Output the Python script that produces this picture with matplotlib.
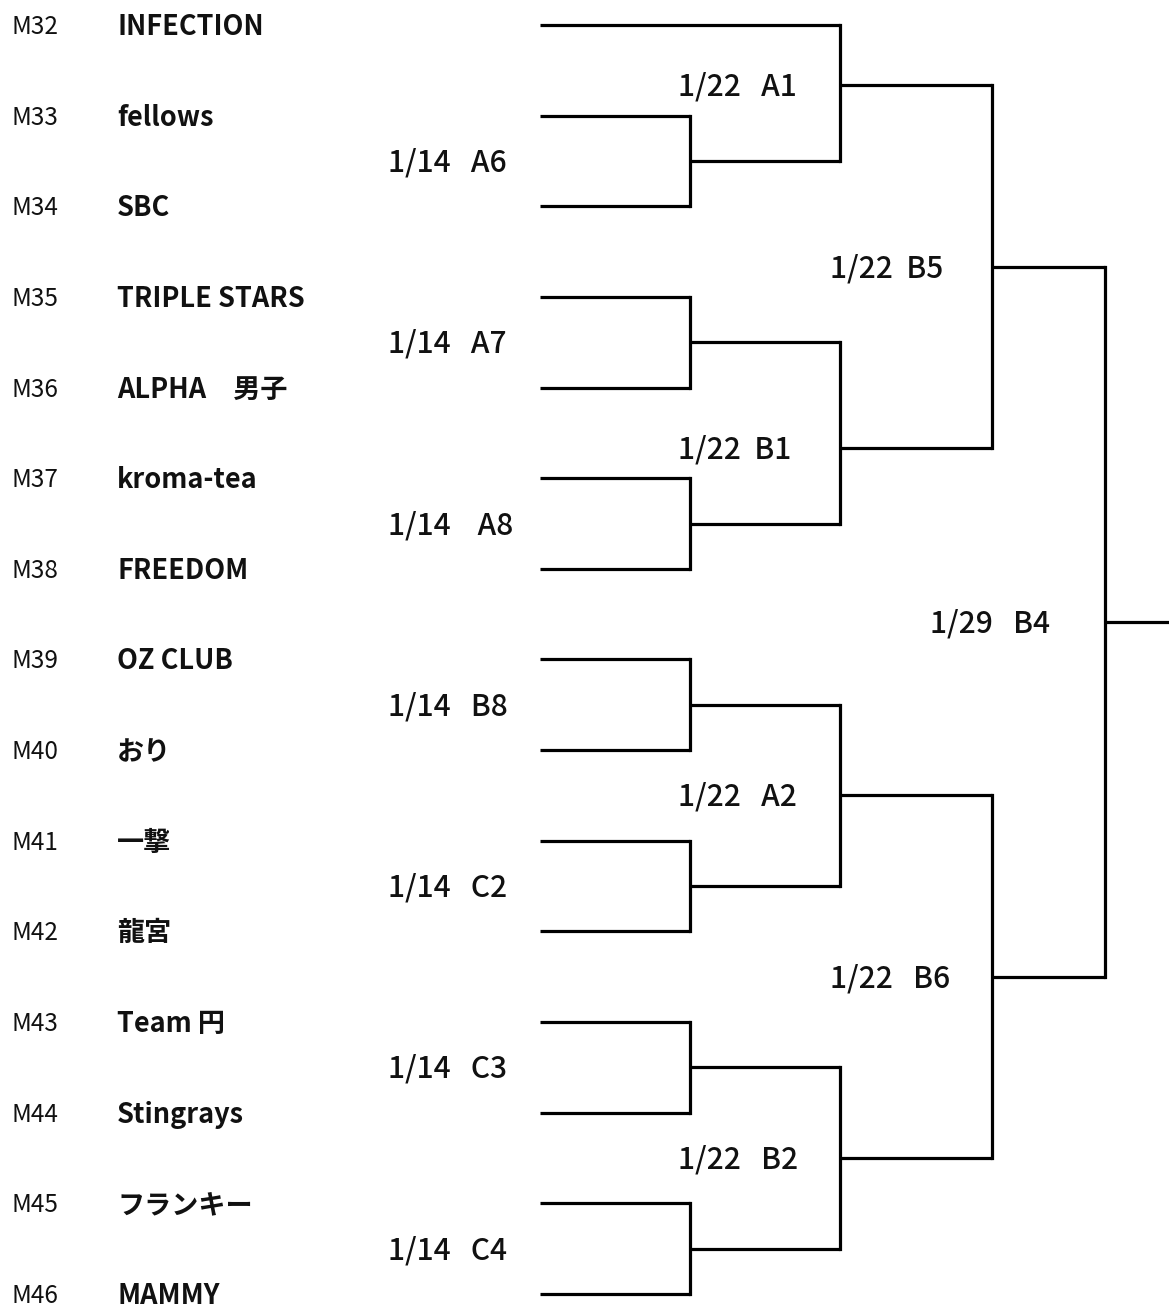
import matplotlib
matplotlib.use("Agg")
import matplotlib.pyplot as plt

plt.rcParams['font.family'] = ['Noto Sans CJK JP', 'DejaVu Sans']

# Teams (top to bottom)
codes = ['M32', 'M33', 'M34', 'M35', 'M36', 'M37', 'M38', 'M39',
         'M40', 'M41', 'M42', 'M43', 'M44', 'M45', 'M46']
teams = ['INFECTION', 'fellows', 'SBC', 'TRIPLE STARS', 'ALPHA　男子',
         'kroma-tea', 'FREEDOM', 'OZ CLUB', 'おり', '一撃', '龍宮',
         'Team 円', 'Stingrays', 'フランキー', 'MAMMY']

# Matches: name -> (top entrant, bottom entrant); ints are team rows
matches = {
    'A6': (1, 2), 'A7': (3, 4), 'A8': (5, 6), 'B8': (7, 8),
    'C2': (9, 10), 'C3': (11, 12), 'C4': (13, 14),
    'A1': (0, 'A6'), 'B1': ('A7', 'A8'), 'A2': ('B8', 'C2'), 'B2': ('C3', 'C4'),
    'B5': ('A1', 'B1'), 'B6': ('A2', 'B2'),
    'B4': ('B5', 'B6'),
}
rounds = {'A6': 1, 'A7': 1, 'A8': 1, 'B8': 1, 'C2': 1, 'C3': 1, 'C4': 1,
          'A1': 2, 'B1': 2, 'A2': 2, 'B2': 2, 'B5': 3, 'B6': 3, 'B4': 4}
match_labels = {
    'A6': '1/14   A6', 'A7': '1/14   A7', 'A8': '1/14    A8', 'B8': '1/14   B8',
    'C2': '1/14   C2', 'C3': '1/14   C3', 'C4': '1/14   C4',
    'A1': '1/22   A1', 'B1': '1/22  B1', 'A2': '1/22   A2', 'B2': '1/22   B2',
    'B5': '1/22  B5', 'B6': '1/22   B6', 'B4': '1/29   B4',
}
# joins that sit off the midpoint (in row units)
join_override = {'A1': 0.66, 'B1': 4.67}

# layout in pixels
W, H = 1169, 1306
row0, row_step = 25, 90.64
x_start = 540
round_x = {1: 690, 2: 840, 3: 992, 4: 1105, 5: 1169}
label_x = {1: 388, 2: 678, 3: 830, 4: 930}
dy = 2  # text sits a touch lower than va='center' puts it

fig = plt.figure(figsize=(W / 100, H / 100), dpi=100)
ax = fig.add_axes([0, 0, 1, 1])
ax.set_xlim(0, W)
ax.set_ylim(H, 0)
ax.axis('off')

lw = 2.3

for i, (c, t) in enumerate(zip(codes, teams)):
    y = row0 + i * row_step + dy
    ax.text(11, y, c, fontsize=17.5, va='center', ha='left', color='#111111')
    ax.text(117, y, t, fontsize=19.5, va='center', ha='left', fontweight='semibold', color='#111111')


def node_pos(node):
    """returns (x_end, y) of the line leaving a node"""
    if isinstance(node, int):
        return x_start, row0 + node * row_step
    top, bot = matches[node]
    r = rounds[node]
    _, y1 = node_pos(top)
    _, y2 = node_pos(bot)
    if node in join_override:
        y = row0 + join_override[node] * row_step
    else:
        y = (y1 + y2) / 2
    return round_x[r], y


for name, (top, bot) in matches.items():
    r = rounds[name]
    xv = round_x[r]
    xa, ya = node_pos(top)
    xb, yb = node_pos(bot)
    ax.plot([xa, xv], [ya, ya], color='black', lw=lw, solid_capstyle='butt')
    ax.plot([xb, xv], [yb, yb], color='black', lw=lw, solid_capstyle='butt')
    ax.plot([xv, xv], [ya, yb], color='black', lw=lw, solid_capstyle='projecting')
    _, yo = node_pos(name)
    ax.text(label_x[r], yo + dy, match_labels[name], fontsize=21.5, va='center', ha='left',
            fontweight='medium', color='#111111')

# final line out of B4
xf, yf = node_pos('B4')
ax.plot([xf, round_x[5]], [yf, yf], color='black', lw=lw, solid_capstyle='butt')

fig.savefig('out.png', dpi=100, facecolor='white')
